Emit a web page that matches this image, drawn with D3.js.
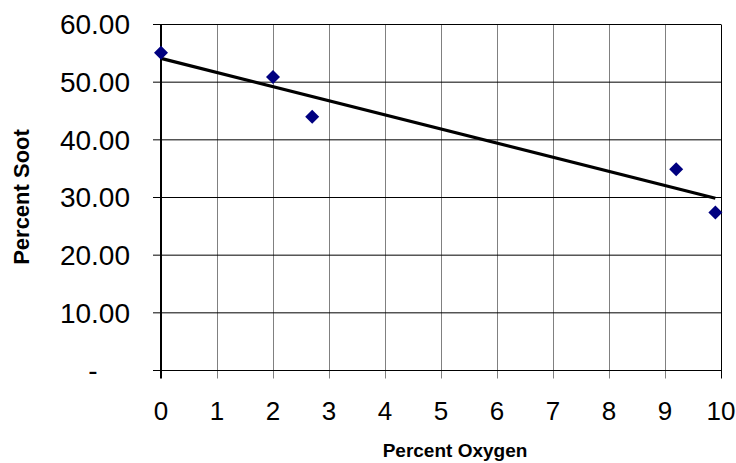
<!DOCTYPE html>
<html><head><meta charset="utf-8">
<script src="https://cdn.jsdelivr.net/npm/d3@7"></script>
<style>body{margin:0;background:#fff}svg{display:block}</style>
</head><body>
<script>
const oxygen = [0, 2, 2.7, 9.2, 9.9];
const soot = [55.1, 50.9, 44.0, 34.9, 27.4];
const xTicks = [0,1,2,3,4,5,6,7,8,9,10];
const yTicks = [0,10,20,30,40,50,60];
const yTickLabels = ["-","10.00","20.00","30.00","40.00","50.00","60.00"];
const xTitle = "Percent Oxygen", yTitle = "Percent Soot";

const W=736,H=463;
const svg=d3.select("body").append("svg").attr("width",W).attr("height",H);
const x=d3.scaleLinear().domain([0,10]).range([161,721]);
const y=d3.scaleLinear().domain([0,60]).range([370.5,24.5]);
const font="'Liberation Sans', Arial, sans-serif";

// vertical grid
svg.append("g").selectAll("line").data(xTicks.slice(1)).join("line")
 .attr("x1",d=>Math.round(x(d))+0.5).attr("x2",d=>Math.round(x(d))+0.5)
 .attr("y1",y(60)).attr("y2",y(0)+8)
 .attr("stroke",d=>d===10?"#000":"#808080").attr("stroke-width",1);
// horizontal grid
svg.append("g").selectAll("line").data(yTicks).join("line")
 .attr("x1",x(0)-8).attr("x2",x(10))
 .attr("y1",d=>y(d)).attr("y2",d=>y(d))
 .attr("stroke","#000").attr("stroke-width",1);
// y axis line
svg.append("line").attr("x1",x(0)).attr("x2",x(0)).attr("y1",y(60)).attr("y2",y(0)+8)
 .attr("stroke","#000").attr("stroke-width",2);

// tick labels
svg.append("g").selectAll("text").data(xTicks).join("text")
 .attr("x",d=>x(d)).attr("y",419.5).attr("text-anchor","middle")
 .attr("font-family",font).attr("font-size",26).text(d=>d);
// accounting-style zero "-" is centred within the label column
svg.append("g").selectAll("text").data(yTicks).join("text")
 .attr("x",(d,i)=>yTickLabels[i]==="-"?93:130).attr("y",d=>y(d)+9.8)
 .attr("text-anchor",(d,i)=>yTickLabels[i]==="-"?"middle":"end")
 .attr("font-family",font).attr("font-size",28).text((d,i)=>yTickLabels[i]);

// titles
svg.append("text").attr("x",455).attr("y",457).attr("text-anchor","middle")
 .attr("font-family",font).attr("font-size",19).attr("font-weight","bold").text(xTitle);
svg.append("text").attr("transform","translate(29,197) rotate(-90)").attr("text-anchor","middle")
 .attr("font-family",font).attr("font-size",22).attr("font-weight","bold").text(yTitle);

// trendline (least squares)
const mx=d3.mean(oxygen), my=d3.mean(soot);
let sxy=0,sxx=0; oxygen.forEach((v,i)=>{sxy+=(v-mx)*(soot[i]-my);sxx+=(v-mx)*(v-mx);});
const slope=sxy/sxx, icpt=my-slope*mx;
const x0=d3.min(oxygen), x1=d3.max(oxygen);
svg.append("line").attr("x1",x(x0)).attr("y1",y(icpt+slope*x0))
 .attr("x2",x(x1)).attr("y2",y(icpt+slope*x1))
 .attr("stroke","#000").attr("stroke-width",3.2);

// markers
svg.append("g").selectAll("path").data(oxygen).join("path")
 .attr("transform",(d,i)=>`translate(${x(d)},${y(soot[i])})`)
 .attr("d","M0,-7L7,0L0,7L-7,0Z").attr("fill","#000080");
</script>
</body></html>
